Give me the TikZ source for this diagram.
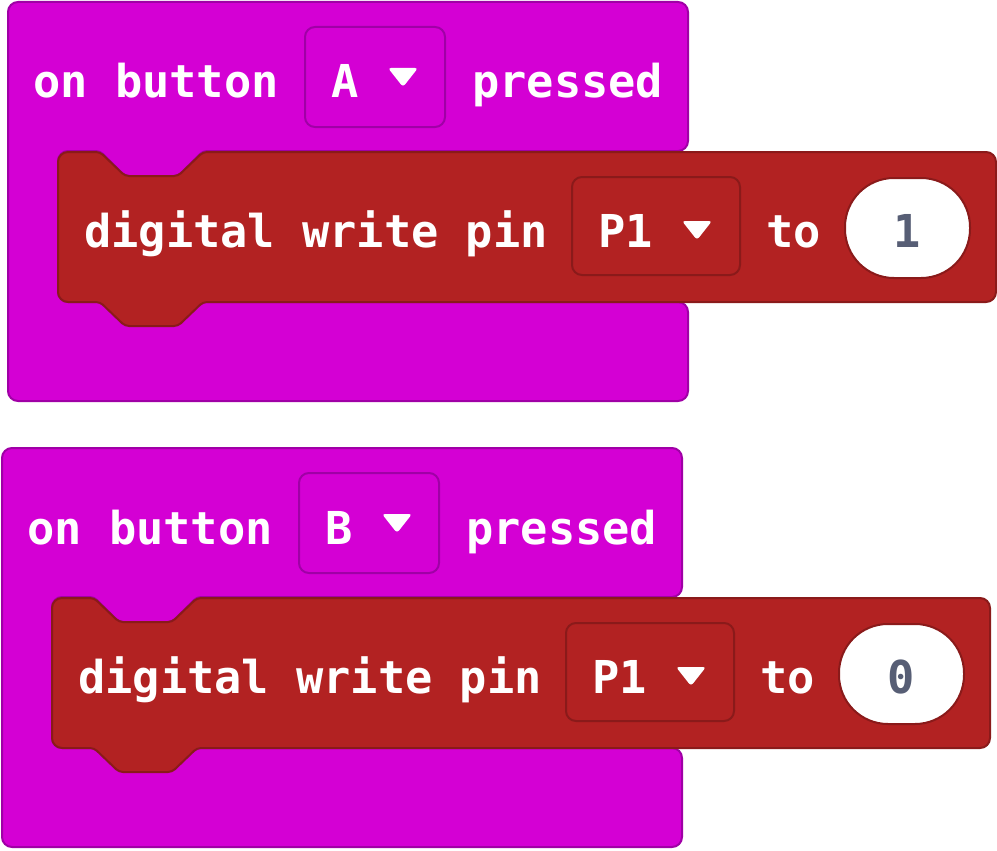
\documentclass[tikz,border=0pt]{standalone}
\usepackage{fontspec}
\newfontfamily\blockfont{DejaVu Sans Mono}
\definecolor{evpurple}{HTML}{D400D4}
\definecolor{evpurpleedge}{HTML}{A000A6}
\definecolor{pinred}{HTML}{B22222}
\definecolor{pinrededge}{HTML}{8A1A1A}
\definecolor{numtext}{HTML}{575E75}
\tikzset{
  hatshape/.style={fill=evpurple, draw=evpurpleedge, line width=2pt, rounded corners=10pt},
  stmtshape/.style={fill=pinred, draw=pinrededge, line width=2pt, rounded corners=10pt},
  blocktext/.style={text=white, font=\blockfont\bfseries\fontsize{45.3}{46}\selectfont, inner sep=0pt, anchor=base west},
  numbertext/.style={text=numtext, font=\blockfont\bfseries\fontsize{45.3}{46}\selectfont, inner sep=0pt, anchor=base},
  ddpurple/.style={draw=evpurpleedge, line width=2pt, rounded corners=10pt, minimum width=140pt, minimum height=100pt, inner sep=0pt},
  ddred/.style={draw=pinrededge, line width=2pt, rounded corners=10pt, minimum width=168pt, minimum height=98pt, inner sep=0pt},
  pill/.style={fill=white, draw=pinrededge, line width=2pt, rounded corners=49pt, minimum width=125pt, minimum height=100pt, inner sep=0pt},
  droparrow/.style={fill=white, rounded corners=3pt}
}
% one "on button ... pressed" event with a digital write inside
\newcommand\buttonblock[5]{%
  \begin{scope}[shift={(#2,#3)}]
    \draw[hatshape] (8,2) -- (688,2) -- (688,151)
      {[rounded corners=4pt] -- (203,151) -- (178,176) -- (125,176) -- (100,151)}
      -- (58,151) -- (58,302) -- (688,302) -- (688,401) -- (8,401) -- cycle;
    \node[blocktext] (on#1) at (33,98) {on button};
    \node[ddpurple] (dd#1) at (375,77) {};
    \node[blocktext] (key#1) at (331,98) {#4};
    \fill[droparrow] (388,68) -- (418,68) -- (403,87) -- cycle;
    \node[blocktext] (pressed#1) at (472,98) {pressed};
    \draw[stmtshape] (58,152)
      {[rounded corners=4pt] -- (100,152) -- (125,176) -- (178,176) -- (203,152)}
      -- (996,152) -- (996,302)
      {[rounded corners=4pt] -- (203,302) -- (178,326) -- (125,326) -- (100,302)}
      -- (58,302) -- cycle;
    \node[blocktext] (write#1) at (84,247) {digital write pin};
    \node[ddred] (pin#1) at (656,226) {};
    \node[blocktext] (pintext#1) at (598,247) {P1};
    \fill[droparrow] (682,221) -- (712,221) -- (697,240) -- cycle;
    \node[blocktext] (to#1) at (766,247) {to};
    \node[pill] (val#1) at (907.5,228) {};
    \node[numbertext] (num#1) at (907.5,247) {#5};
  \end{scope}}
\begin{document}
\begin{tikzpicture}[x=1pt,y=-1pt]
  \useasboundingbox (0,0) rectangle (997,851);
  \buttonblock{a}{0}{0}{A}{1}
  \buttonblock{b}{-6}{446}{B}{0}
\end{tikzpicture}
\end{document}
